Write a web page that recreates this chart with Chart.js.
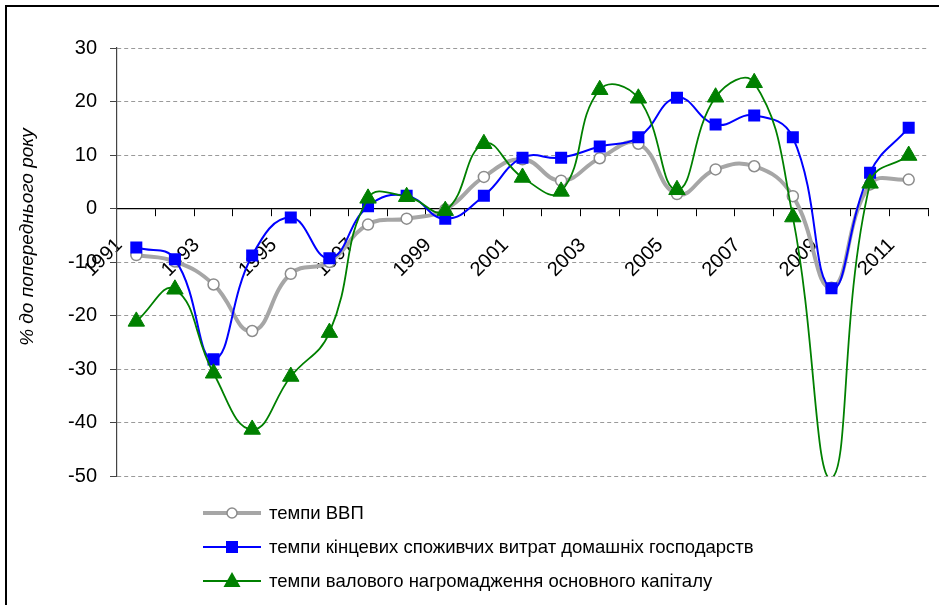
<!DOCTYPE html>
<html>
<head>
<meta charset="utf-8">
<script src="https://cdn.jsdelivr.net/npm/chart.js@4"></script>
<style>
  html, body { margin: 0; padding: 0; background: #fff; overflow: hidden; }
  #wrap { position: relative; width: 939px; height: 605px; }
  #frame { position: absolute; left: 5px; top: 5px; width: 960px; height: 640px; border: 2px solid #000; box-sizing: border-box; }
  #yTitle {
    position: absolute; left: 27px; top: 237px; transform: translate(-50%, -50%) rotate(-90deg);
    font: italic 19px "Liberation Sans", Arial, sans-serif; white-space: nowrap; color: #000;
  }
  #legend { position: absolute; left: 203px; top: 496px; font: 18.5px "Liberation Sans", Arial, sans-serif; color: #000; }
  #legend .item { height: 34px; display: flex; align-items: center; }
  #legend svg { margin-right: 8px; }
</style>
</head>
<body>
<div id="wrap">
  <canvas id="growthChart" width="939" height="605"></canvas>
  <div id="frame"></div>
  <div id="yTitle">% до попереднього року</div>
  <div id="legend"></div>
</div>
<script>
const years = ['1991', '1992', '1993', '1994', '1995', '1996', '1997', '1998', '1999', '2000',
  '2001', '2002', '2003', '2004', '2005', '2006', '2007', '2008', '2009', '2010', '2011'];

const gdpGrowth = [-8.7, -9.9, -14.2, -22.9, -12.2, -10.0, -3.0, -1.9, -0.2, 5.9,
  9.2, 5.2, 9.4, 12.1, 2.7, 7.3, 7.9, 2.3, -14.8, 4.5, 5.4];

const householdGrowth = [-7.3, -9.5, -28.2, -8.8, -1.7, -9.3, 0.4, 2.4, -1.9, 2.4,
  9.5, 9.5, 11.6, 13.3, 20.7, 15.7, 17.4, 13.3, -14.9, 6.7, 15.1];

const capitalGrowth = [-21.1, -15.1, -30.8, -41.3, -31.4, -23.2, 1.9, 2.2, -0.4, 12.1,
  5.8, 3.2, 22.2, 20.6, 3.5, 20.8, 23.5, -1.6, -50.4, 4.7, 9.9];

const seriesNames = [
  'темпи ВВП',
  'темпи кінцевих споживчих витрат домашніх господарств',
  'темпи валового нагромадження основного капіталу'
];

const yTicks = [-50, -40, -30, -20, -10, 0, 10, 20, 30];

const tickFont = { family: '"Liberation Sans", Arial, sans-serif', size: 20 };

function createGrowthChart() {
  const ctx = document.getElementById('growthChart');

  new Chart(ctx, {
    type: 'line',
    data: {
      labels: years,
      datasets: [
        {
          label: seriesNames[0],
          data: gdpGrowth,
          borderColor: '#a6a6a6',
          borderWidth: 4,
          pointStyle: 'circle',
          pointRadius: 5.5,
          pointBackgroundColor: '#fff',
          pointBorderColor: '#8c8c8c',
          pointBorderWidth: 1.5,
          tension: 0.45,
          order: 3
        },
        {
          label: seriesNames[1],
          data: householdGrowth,
          borderColor: '#0000ff',
          borderWidth: 2,
          pointStyle: 'rect',
          pointRadius: 8.5,
          pointBackgroundColor: '#0000ff',
          pointBorderColor: '#0000ff',
          pointBorderWidth: 0,
          tension: 0.45,
          order: 2
        },
        {
          label: seriesNames[2],
          data: capitalGrowth,
          borderColor: '#008000',
          borderWidth: 1.8,
          pointStyle: 'triangle',
          // Excel hides markers that fall outside the axis range
          pointRadius: function(c) { return c.raw < -50 ? 0 : 9.5; },
          pointBackgroundColor: '#008000',
          pointBorderColor: '#008000',
          pointBorderWidth: 1,
          tension: 0.45,
          order: 1
        }
      ]
    },
    options: {
      responsive: false,
      animation: false,
      layout: { padding: { top: 48, bottom: 129, left: 0, right: 11 } },
      scales: {
        x: {
          position: { y: 0 },
          offset: true,
          afterFit: function(scale) { scale.paddingLeft = 0; scale.paddingRight = 0; },
          grid: { offset: true, drawOnChartArea: false, tickLength: 7, tickColor: '#000' },
          border: { color: '#000', width: 1.2 },
          ticks: {
            autoSkip: false,
            minRotation: 45,
            maxRotation: 45,
            padding: 18,
            labelOffset: -17,
            color: '#000',
            font: tickFont,
            callback: function(value, index) {
              return index % 2 === 0 ? years[index] : '';
            }
          }
        },
        y: {
          min: -50,
          max: 30,
          afterFit: function(scale) { scale.width = 117; },
          afterBuildTicks: function(scale) { scale.ticks = yTicks.map(v => ({ value: v })); },
          grid: {
            color: function(c) { return c.tick && c.tick.value === 0 ? 'rgba(0,0,0,0)' : '#9a9a9a'; },
            tickColor: '#444',
            tickLength: 7
          },
          border: { color: '#444', width: 1.2, dash: [4, 3] },
          ticks: { padding: 13, color: '#000', font: tickFont }
        }
      },
      plugins: {
        legend: { display: false },
        tooltip: { enabled: false }
      }
    }
  });
}

function buildLegend() {
  const box = document.getElementById('legend');
  const markers = [
    '<line x1="0" y1="9" x2="58" y2="9" stroke="#a6a6a6" stroke-width="4"/><circle cx="29" cy="9" r="5" fill="#fff" stroke="#8c8c8c" stroke-width="1.5"/>',
    '<line x1="0" y1="9" x2="58" y2="9" stroke="#0000ff" stroke-width="2"/><rect x="23" y="3" width="12" height="12" fill="#0000ff"/>',
    '<line x1="0" y1="9" x2="58" y2="9" stroke="#008000" stroke-width="1.8"/><polygon points="29,0 37.5,15 20.5,15" fill="#008000"/>'
  ];
  seriesNames.forEach((name, i) => {
    const row = document.createElement('div');
    row.className = 'item';
    row.innerHTML = '<svg width="58" height="18">' + markers[i] + '</svg><span>' + name + '</span>';
    box.appendChild(row);
  });
}

createGrowthChart();
buildLegend();
</script>
</body>
</html>
